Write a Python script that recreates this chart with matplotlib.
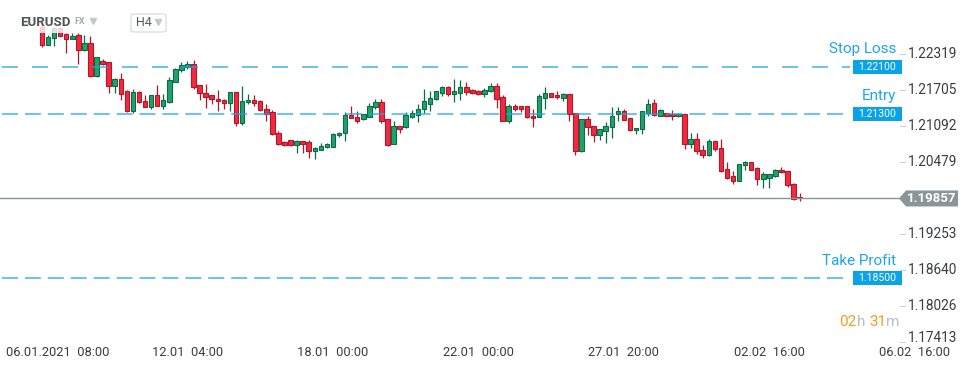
import matplotlib
matplotlib.use("Agg")
import matplotlib.pyplot as plt
from matplotlib.patches import Polygon, Rectangle, FancyBboxPatch
from matplotlib.transforms import offset_copy
import numpy as np

plt.rcParams['font.family'] = ['Roboto', 'DejaVu Sans']
plt.rcParams['lines.scale_dashes'] = False

# EURUSD H4 candles, 06.01.2021 08:00 onward
opens = [1.2278, 1.2248, 1.2259, 1.2276, 1.2266, 1.2258, 1.2264, 1.2238, 1.2250, 1.2194,
         1.2220, 1.2218, 1.2178, 1.2190, 1.2169, 1.2135, 1.2167, 1.2152, 1.2142, 1.2162,
         1.2144, 1.2150, 1.2185, 1.2204, 1.2210, 1.2214, 1.2179, 1.2165, 1.2162, 1.2156,
         1.2153, 1.2149, 1.2167, 1.2115, 1.2150, 1.2153, 1.2151, 1.2138, 1.2133, 1.2098,
         1.2082, 1.2085, 1.2076, 1.2083, 1.2082, 1.2066, 1.2069, 1.2073, 1.2074, 1.2093,
         1.2097, 1.2128, 1.2125, 1.2121, 1.2125, 1.2142, 1.2150, 1.2121, 1.2079, 1.2109,
         1.2107, 1.2124, 1.2128, 1.2138, 1.2147, 1.2155, 1.2166, 1.2175, 1.2163, 1.2166,
         1.2175, 1.2171, 1.2169, 1.2164, 1.2168, 1.2177, 1.2158, 1.2118, 1.2143, 1.2143,
         1.2143, 1.2127, 1.2125, 1.2157, 1.2165, 1.2162, 1.2157, 1.2163, 1.2131, 1.2066,
         1.2121, 1.2109, 1.2093, 1.2101, 1.2107, 1.2129, 1.2134, 1.2122, 1.2102, 1.2104,
         1.2132, 1.2148, 1.2127, 1.2131, 1.2129, 1.2126, 1.2129, 1.2078, 1.2087, 1.2068,
         1.2059, 1.2083, 1.2071, 1.2036, 1.2024, 1.2016, 1.2042, 1.2047, 1.2037, 1.2019,
         1.2021, 1.2024, 1.2034, 1.2032, 1.2011, 1.1988]
highs = [1.2280, 1.2264, 1.2278, 1.2278, 1.2268, 1.2267, 1.2267, 1.2265, 1.2263, 1.2227,
         1.2223, 1.2218, 1.2191, 1.2199, 1.2171, 1.2173, 1.2169, 1.2162, 1.2162, 1.2179,
         1.2163, 1.2192, 1.2208, 1.2218, 1.2220, 1.2222, 1.2179, 1.2181, 1.2162, 1.2171,
         1.2156, 1.2167, 1.2167, 1.2177, 1.2163, 1.2162, 1.2153, 1.2146, 1.2136, 1.2101,
         1.2084, 1.2085, 1.2085, 1.2084, 1.2085, 1.2074, 1.2080, 1.2081, 1.2098, 1.2099,
         1.2133, 1.2143, 1.2135, 1.2130, 1.2148, 1.2156, 1.2156, 1.2121, 1.2118, 1.2109,
         1.2133, 1.2136, 1.2147, 1.2172, 1.2169, 1.2169, 1.2177, 1.2177, 1.2189, 1.2187,
         1.2184, 1.2172, 1.2171, 1.2174, 1.2182, 1.2183, 1.2162, 1.2147, 1.2147, 1.2144,
         1.2143, 1.2139, 1.2164, 1.2176, 1.2166, 1.2168, 1.2165, 1.2164, 1.2131, 1.2121,
         1.2127, 1.2109, 1.2104, 1.2116, 1.2142, 1.2142, 1.2139, 1.2123, 1.2106, 1.2135,
         1.2155, 1.2155, 1.2138, 1.2131, 1.2136, 1.2131, 1.2130, 1.2098, 1.2097, 1.2076,
         1.2087, 1.2084, 1.2087, 1.2047, 1.2032, 1.2044, 1.2049, 1.2048, 1.2039, 1.2030,
         1.2028, 1.2036, 1.2040, 1.2033, 1.2012, 1.1995]
lows = [1.2244, 1.2247, 1.2246, 1.2263, 1.2234, 1.2257, 1.2214, 1.2237, 1.2193, 1.2193,
        1.2213, 1.2166, 1.2166, 1.2154, 1.2133, 1.2132, 1.2148, 1.2142, 1.2139, 1.2143,
        1.2138, 1.2149, 1.2184, 1.2202, 1.2206, 1.2173, 1.2154, 1.2140, 1.2147, 1.2135,
        1.2138, 1.2135, 1.2110, 1.2111, 1.2146, 1.2144, 1.2135, 1.2117, 1.2093, 1.2077,
        1.2075, 1.2075, 1.2064, 1.2064, 1.2055, 1.2053, 1.2068, 1.2072, 1.2073, 1.2091,
        1.2084, 1.2122, 1.2115, 1.2120, 1.2124, 1.2138, 1.2114, 1.2075, 1.2078, 1.2098,
        1.2106, 1.2123, 1.2116, 1.2132, 1.2135, 1.2154, 1.2161, 1.2161, 1.2150, 1.2154,
        1.2162, 1.2164, 1.2162, 1.2159, 1.2167, 1.2140, 1.2118, 1.2115, 1.2134, 1.2133,
        1.2123, 1.2108, 1.2124, 1.2138, 1.2159, 1.2155, 1.2152, 1.2118, 1.2059, 1.2065,
        1.2093, 1.2082, 1.2085, 1.2081, 1.2088, 1.2118, 1.2119, 1.2101, 1.2095, 1.2096,
        1.2127, 1.2126, 1.2126, 1.2127, 1.2120, 1.2125, 1.2070, 1.2072, 1.2061, 1.2055,
        1.2058, 1.2066, 1.2031, 1.2019, 1.2011, 1.2016, 1.2035, 1.2034, 1.2009, 1.2004,
        1.2004, 1.2023, 1.2029, 1.2006, 1.1983, 1.1982]
closes = [1.2247, 1.2260, 1.2276, 1.2263, 1.2258, 1.2263, 1.2238, 1.2250, 1.2194, 1.2226,
          1.2215, 1.2178, 1.2190, 1.2164, 1.2135, 1.2167, 1.2150, 1.2142, 1.2162, 1.2144,
          1.2153, 1.2187, 1.2206, 1.2213, 1.2215, 1.2176, 1.2165, 1.2159, 1.2155, 1.2151,
          1.2149, 1.2167, 1.2115, 1.2151, 1.2153, 1.2149, 1.2136, 1.2130, 1.2095, 1.2079,
          1.2076, 1.2076, 1.2084, 1.2079, 1.2066, 1.2071, 1.2075, 1.2079, 1.2096, 1.2098,
          1.2128, 1.2122, 1.2118, 1.2129, 1.2144, 1.2150, 1.2118, 1.2077, 1.2109, 1.2104,
          1.2128, 1.2131, 1.2139, 1.2151, 1.2157, 1.2168, 1.2176, 1.2164, 1.2168, 1.2176,
          1.2167, 1.2166, 1.2164, 1.2171, 1.2177, 1.2156, 1.2118, 1.2143, 1.2138, 1.2138,
          1.2125, 1.2123, 1.2160, 1.2165, 1.2159, 1.2158, 1.2163, 1.2129, 1.2066, 1.2121,
          1.2107, 1.2093, 1.2104, 1.2109, 1.2127, 1.2134, 1.2120, 1.2102, 1.2105, 1.2134,
          1.2146, 1.2128, 1.2136, 1.2127, 1.2126, 1.2129, 1.2078, 1.2087, 1.2066, 1.2059,
          1.2083, 1.2070, 1.2033, 1.2021, 1.2016, 1.2044, 1.2047, 1.2035, 1.2019, 1.2027,
          1.2027, 1.2034, 1.2030, 1.2009, 1.1985, 1.19857]

price_ticks = [1.22319, 1.21705, 1.21092, 1.20479, 1.19253, 1.18640, 1.18026, 1.17413]
date_labels = ["06.01.2021  08:00", "12.01  04:00", "18.01  00:00", "22.01  00:00",
               "27.01  20:00", "02.02  16:00", "06.02  16:00"]
bars_per_label = 24

levels = [("Stop Loss", 1.22100), ("Entry", 1.21300), ("Take Profit", 1.18500)]
last_price = 1.19857

UP_FILL, UP_EDGE = "#1fa36c", "#0d6b45"
DN_FILL, DN_EDGE = "#f2293f", "#b0182a"
BLUE = "#1ea5ea"
BOX = "#0aa3e8"
GRAY = "#8b9598"
TXT = "#3a3d40"

o = np.array(opens); h = np.array(highs); l = np.array(lows); c = np.array(closes)
x = np.arange(len(o))
up = c >= o

fig = plt.figure(figsize=(9.7, 3.68), dpi=100)
ax = fig.add_axes([0, 0, 1, 1])
ax.axis('off')
ax.set_xlim(-6.93, 153.1)
ax.set_ylim(1.16968, 1.23239)
ppx = (1.23239 - 1.16968) / 368   # price per pixel

# candles
wick_col = np.where(up, UP_EDGE, DN_EDGE)
ax.vlines(x, l, h, colors=wick_col, linewidth=0.9, zorder=2)
body_lo = np.minimum(o, c)
body_h = np.maximum(np.abs(c - o), ppx * 1.2)
ax.bar(x, body_h, bottom=body_lo, width=0.74,
       color=np.where(up, UP_FILL, DN_FILL), edgecolor=wick_col, linewidth=0.8, zorder=3)

yax = ax.get_yaxis_transform()

# order levels
dash_map = {"Stop Loss": (0, (11.5, 10.1)), "Entry": (0, (11.5, 5.0)), "Take Profit": (0, (11.5, 5.0))}
for name, val in levels:
    ax.plot([2 / 970, 850 / 970], [val, val], transform=yax, color=BLUE, lw=1.1,
            linestyle=dash_map[name], alpha=0.85, zorder=4)
    hh = 7.2 * ppx
    ax.add_patch(Rectangle((853 / 970, val - hh), 49 / 970, 2 * hh, transform=yax,
                           facecolor=BOX, edgecolor='none', zorder=5))
    ax.text(877.5 / 970, val, f"{val:.5f}", transform=yax, ha='center', va='center',
            color='white', fontsize=7.5, zorder=6)
    ax.annotate(name, xy=(896 / 970, val), xycoords=yax, xytext=(0, 12.5),
                textcoords='offset points', ha='right', va='center',
                color=BLUE, fontsize=11, zorder=6)

# last price line and tag
ax.plot([0, 899 / 970], [last_price, last_price], transform=yax, color=GRAY, lw=1.0, zorder=4)
th = 8 * ppx
tag = Polygon([(899 / 970, last_price), (906 / 970, last_price + th), (958 / 970, last_price + th),
               (958 / 970, last_price - th), (906 / 970, last_price - th)],
              closed=True, transform=yax, facecolor=GRAY, edgecolor='none', zorder=5)
ax.add_patch(tag)
ax.text(932 / 970, last_price, f"{last_price:.5f}", transform=yax, ha='center', va='center',
        color='white', fontsize=9.5, fontweight='bold', zorder=6)

# price scale (lowest label nudged up, as in the terminal)
for k, p in enumerate(price_ticks):
    ax.plot([900 / 970, 905 / 970], [p, p], transform=yax, color='#cfd3d5', lw=0.8)
    tr = yax if k < len(price_ticks) - 1 else offset_copy(yax, fig=fig, y=3.5, units='dots')
    ax.text(908 / 970, p, f"{p:.5f}", transform=tr, ha='left', va='center',
            color=TXT, fontsize=9.8)

# time scale
xax = ax.get_xaxis_transform()
for k, lab in enumerate(date_labels):
    if k == 0:
        ax.text(6 / 970, 1 - 353 / 368, lab, transform=ax.transAxes, ha='left', va='center',
                color=TXT, fontsize=9.3)
    else:
        ax.text(k * bars_per_label, 1 - 353 / 368, lab, transform=xax, ha='center', va='center',
                color=TXT, fontsize=9.3)

# countdown
ty = 1 - 322 / 368
cd = [("02", "#f59a23", 857, 'right'), ("h", "#b8bec1", 857, 'left'),
      ("31", "#f59a23", 886, 'right'), ("m", "#b8bec1", 886, 'left')]
for s, col, px, al in cd:
    fig.text(px / 970, ty, s, color=col, fontsize=11, ha=al, va='center')

# symbol header
ax.add_patch(Rectangle((18 / 970, 1 - 33 / 368), 90 / 970, 33 / 368, transform=ax.transAxes,
                       facecolor='white', edgecolor='none', alpha=0.8, zorder=7))
ax.text(20 / 970, 1 - 22 / 368, "EURUSD", transform=ax.transAxes, color='#4f5558',
        fontsize=9.5, fontweight='bold', ha='left', va='center', zorder=8)
ax.text(74 / 970, 1 - 22 / 368, "FX", transform=ax.transAxes, color='#a3abaf',
        fontsize=6.5, fontweight='bold', ha='left', va='center', zorder=8)
ax.plot([93 / 970], [1 - 21 / 368], transform=ax.transAxes, marker='v', markersize=5,
        color='#c4c8cb', clip_on=False, zorder=8)
ax.add_patch(FancyBboxPatch((131 / 970, 1 - 32 / 368), 35 / 970, 18 / 368,
                            boxstyle='round,pad=0,rounding_size=0.004',
                            transform=ax.transAxes, facecolor='white',
                            edgecolor='#dcdfe1', lw=1, zorder=8))
ax.text(136 / 970, 1 - 23 / 368, "H4", transform=ax.transAxes, color='#555a5d',
        fontsize=9, ha='left', va='center', zorder=9)
ax.plot([158 / 970], [1 - 22 / 368], transform=ax.transAxes, marker='v', markersize=5,
        color='#c4c8cb', clip_on=False, zorder=9)

fig.savefig("out.png", dpi=100, facecolor='white')
